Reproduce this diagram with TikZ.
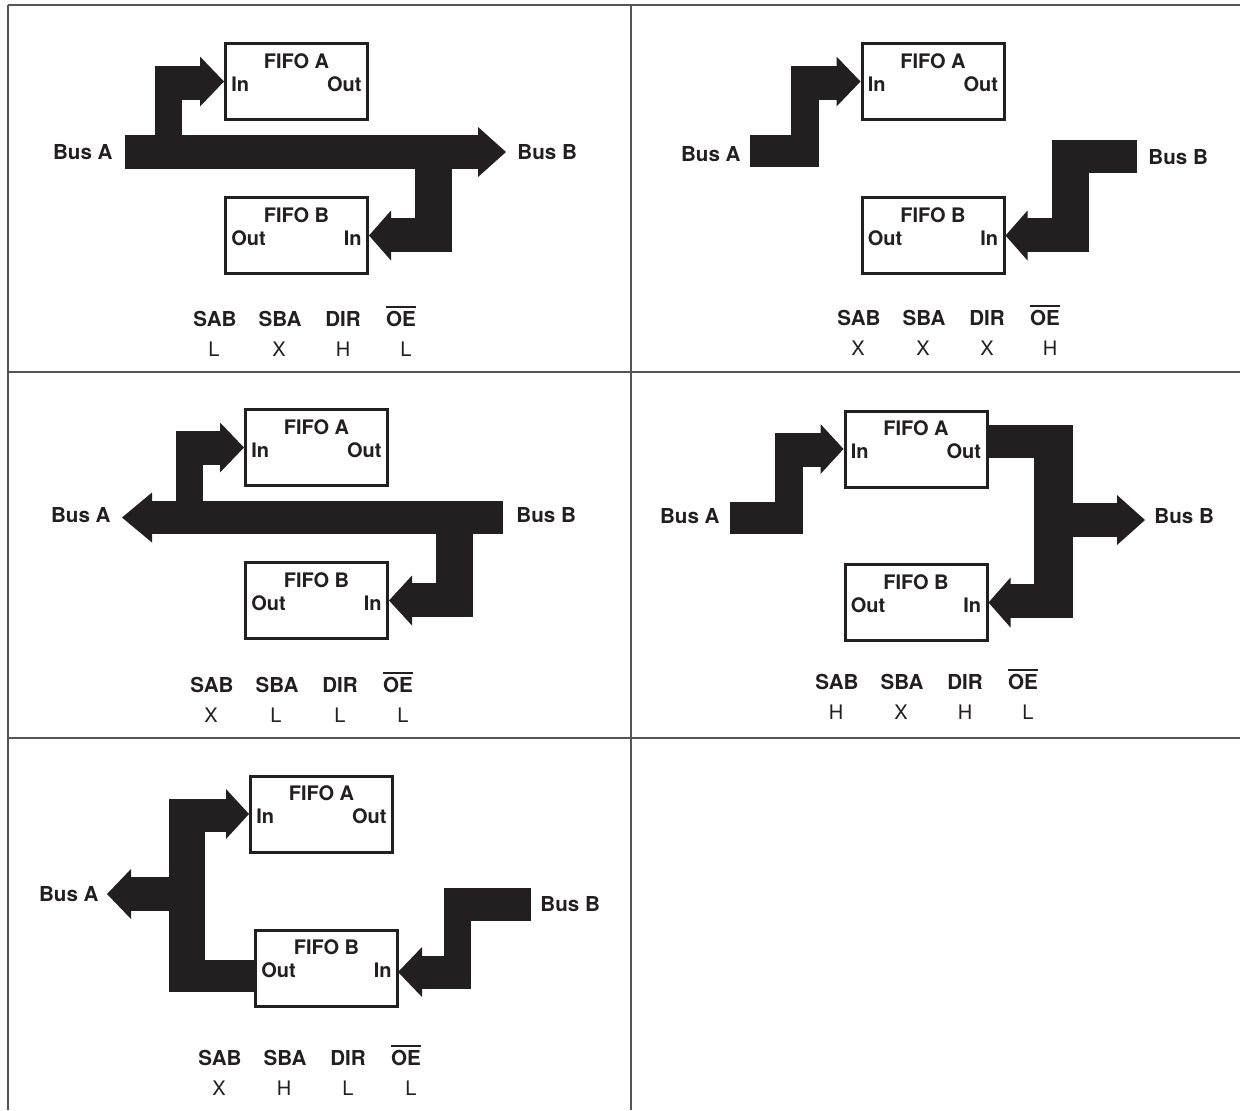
\documentclass[tikz,border=0pt]{standalone}
\usepackage{fontspec}
\setmainfont{TeX Gyre Heros}
\usepackage{tikz}
\usetikzlibrary{positioning,calc}
\definecolor{InkBlack}{RGB}{35,31,32}
\definecolor{RuleGray}{RGB}{85,85,85}
\tikzset{
  fifo/.style={draw=InkBlack,line width=1.5pt,fill=white,minimum width=71pt,
    minimum height=38pt,inner sep=0pt},
  busfill/.style={fill=InkBlack},
  lbl/.style={font=\fontsize{10.3}{12}\selectfont\bfseries,text=InkBlack,inner sep=0pt},
  port/.style={font=\fontsize{10}{12}\selectfont\bfseries,text=InkBlack,inner sep=0pt},
  val/.style={font=\fontsize{10}{12}\selectfont,text=InkBlack,inner sep=0pt},
  frame/.style={draw=RuleGray,line width=0.8pt},
}
\newcommand{\barred}[1]{\vbox{\hrule height 1.3pt\kern 1.2pt\hbox{#1}}}
\newcommand{\headR}[2]{\fill[busfill] (#1) -- ++(-#2,-25) -- ++(0,50) -- cycle;}
\newcommand{\headL}[2]{\fill[busfill] (#1) -- ++(#2,-25) -- ++(0,50) -- cycle;}
\newcommand{\fifobox}[5]{%
  \node[fifo] (#1) at (#2) {};
  \node[port] (#1t) at ($(#1.north)+(0,19)$) {#3};
  \node[port,anchor=west] (#1l) at ($(#1.north west)+(7,42)$) {#4};
  \node[port,anchor=east] (#1r) at ($(#1.north east)+(-7,42)$) {#5};
}
\newcommand{\modetab}[7]{%
  \node[lbl,anchor=base] (#1sab) at (#2,#3) {SAB};
  \node[lbl,anchor=base] (#1sba) at (#2+65,#3) {SBA};
  \node[lbl,anchor=base] (#1dir) at (#2+128,#3) {DIR};
  \node[lbl,anchor=base] (#1oe) at (#2+186,#3) {\barred{OE}};
  \node[val,anchor=base] (#1v1) at (#2-1,#3+30) {#4};
  \node[val,anchor=base] (#1v2) at (#2+64,#3+30) {#5};
  \node[val,anchor=base] (#1v3) at (#2+128,#3+30) {#6};
  \node[val,anchor=base] (#1v4) at (#2+191,#3+30) {#7};
}

\begin{document}
\begin{tikzpicture}[x=0.5pt,y=-0.5pt]
\useasboundingbox (0,0) rectangle (1240,1110);
% frame
\draw[frame] (8,5) -- (1240,5);
\draw[frame] (8,372) -- (1240,372);
\draw[frame] (8,738) -- (1240,738);
\draw[frame] (8,5) -- (8,1110);
\draw[frame] (631,5) -- (631,1110);

% panel 1: A to B
\fifobox{fa1}{296.5,81.5}{FIFO A}{In}{Out}
\fifobox{fb1}{296.5,235.5}{FIFO B}{Out}{In}
\fill[busfill] (125,135) rectangle (480,169);
\headR{506,152}{28}
\fill[busfill] (155,66) rectangle (182,169);
\fill[busfill] (155,66) rectangle (203,100);
\headR{fa1.west}{24}
\fill[busfill] (415,135) rectangle (452,252);
\fill[busfill] (388,218) rectangle (452,252);
\headL{fb1.east}{22}
\node[lbl,anchor=east] (busa1) at (113,152) {Bus A};
\node[lbl,anchor=west] (busb1) at (517,152) {Bus B};
\modetab{t1}{215}{326}{L}{X}{H}{L}

% panel 2: isolation
\fifobox{fa2}{933,81.5}{FIFO A}{In}{Out}
\fifobox{fb2}{933,235.5}{FIFO B}{Out}{In}
\fill[busfill] (750,135) rectangle (819,167);
\fill[busfill] (791,66) rectangle (819,167);
\fill[busfill] (791,66) rectangle (840,100);
\headR{fa2.west}{24}
\fill[busfill] (1052,140) rectangle (1137,173);
\fill[busfill] (1052,140) rectangle (1089,252);
\fill[busfill] (1024,218) rectangle (1089,252);
\headL{fb2.east}{22}
\node[lbl,anchor=east] (busa2) at (741,154) {Bus A};
\node[lbl,anchor=west] (busb2) at (1148,157) {Bus B};
\modetab{t2}{859}{325}{X}{X}{X}{H}

% panel 3: B to A
\fifobox{fa3}{316.5,447.5}{FIFO A}{In}{Out}
\fifobox{fb3}{316.5,600.5}{FIFO B}{Out}{In}
\fill[busfill] (150,501) rectangle (503,534);
\headL{122,517.5}{30}
\fill[busfill] (176,431) rectangle (203,534);
\fill[busfill] (176,431) rectangle (223,465);
\headR{fa3.west}{24}
\fill[busfill] (436,501) rectangle (473,617);
\fill[busfill] (408,583) rectangle (473,617);
\headL{fb3.east}{23}
\node[lbl,anchor=east] (busa3) at (111,515) {Bus A};
\node[lbl,anchor=west] (busb3) at (516,515) {Bus B};
\modetab{t3}{212}{692}{X}{L}{L}{L}

% panel 4: FIFO A out to B
\fifobox{fa4}{916,449}{FIFO A}{In}{Out}
\fifobox{fb4}{916,602.5}{FIFO B}{Out}{In}
\fill[busfill] (730,502) rectangle (803,534);
\fill[busfill] (775,433) rectangle (803,534);
\fill[busfill] (775,433) rectangle (824,467);
\headR{fa4.west}{23}
\fill[busfill] (986,425) rectangle (1073,458);
\fill[busfill] (1034,425) rectangle (1073,618);
\fill[busfill] (1073,503) rectangle (1119,537);
\headR{1145,520}{28}
\fill[busfill] (1007,584) rectangle (1073,618);
\headL{fb4.east}{22}
\node[lbl,anchor=east] (busa4) at (720,516) {Bus A};
\node[lbl,anchor=west] (busb4) at (1154,516) {Bus B};
\modetab{t4}{837}{689}{H}{X}{H}{L}

% panel 5: FIFO B out to A
\fifobox{fa5}{321.5,814}{FIFO A}{In}{Out}
\fifobox{fb5}{326.5,968}{FIFO B}{Out}{In}
\fill[busfill] (169,799) rectangle (205,992);
\fill[busfill] (169,799) rectangle (230,832);
\headR{fa5.west}{23}
\fill[busfill] (169,960) rectangle (256,992);
\fill[busfill] (129,877) rectangle (169,911);
\headL{107,894}{24}
\fill[busfill] (444,888) rectangle (531,921);
\fill[busfill] (444,888) rectangle (471,989);
\fill[busfill] (420,956) rectangle (471,989);
\headL{398,972}{24}
\node[lbl,anchor=east] (busa5) at (99,894) {Bus A};
\node[lbl,anchor=west] (busb5) at (540,904) {Bus B};
\modetab{t5}{220}{1065}{X}{H}{L}{L}
\end{tikzpicture}
\end{document}
